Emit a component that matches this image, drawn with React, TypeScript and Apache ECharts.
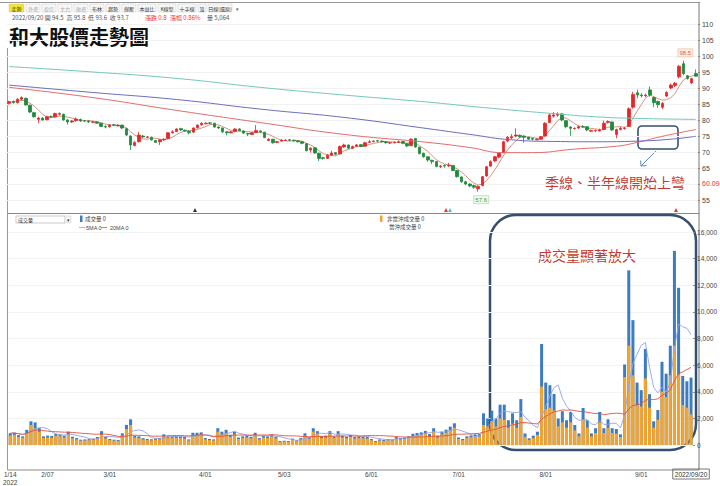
import React, { useEffect, useRef } from 'react';
import * as echarts from 'echarts';

// ---- trading days (2022) ----
const JAN = [14, 17, 18, 19, 20, 21, 24, 25, 26];
const FEB = [7, 8, 9, 10, 11, 14, 15, 16, 17, 18, 21, 22, 23, 24, 25];
const MAR = [1, 2, 3, 4, 7, 8, 9, 10, 11, 14, 15, 16, 17, 18, 21, 22, 23, 24, 25, 28, 29, 30, 31];
const APR = [1, 6, 7, 8, 11, 12, 13, 14, 15, 18, 19, 20, 21, 22, 25, 26, 27, 28, 29];
const MAY = [3, 4, 5, 6, 9, 10, 11, 12, 13, 16, 17, 18, 19, 20, 23, 24, 25, 26, 27, 30, 31];
const JUN = [1, 2, 6, 7, 8, 9, 10, 13, 14, 15, 16, 17, 20, 21, 22, 23, 24, 27, 28, 29, 30];
const JUL = [1, 4, 5, 6, 7, 8, 11, 12, 13, 14, 15, 18, 19, 20, 21, 22, 25, 26, 27, 28, 29];
const AUG = [1, 2, 3, 4, 5, 8, 9, 10, 11, 12, 15, 16, 17, 18, 19, 22, 23, 24, 25, 26, 29, 30, 31];
const SEP = [1, 2, 5, 6, 7, 8, 12, 13, 14, 15, 16, 19, 20];
const MONTHS: [number, number[]][] = [[1, JAN], [2, FEB], [3, MAR], [4, APR], [5, MAY], [6, JUN], [7, JUL], [8, AUG], [9, SEP]];
const dates = MONTHS.flatMap(([m, ds]) => ds.map((d) => `${m}/${String(d).padStart(2, '0')}`));
const tickDates = ['1/14', '2/07', '3/01', '4/01', '5/03', '6/01', '7/01', '8/01', '9/01', '9/20'];

// ---- prices ----
const openP = [
  85.2, 85.8, 85.4, 86.5, 86.8, 84.6, 82.3, 80.2, 80.6, 80.1,
  81.1, 81.0, 81.8, 81.8, 80.0, 79.4, 79.8, 80.2, 79.8, 79.7,
  79.3, 79.4, 79.0, 78.0, 77.9, 78.5, 78.2, 78.4, 77.3, 75.0,
  72.0, 73.2, 75.0, 74.6, 74.6, 73.6, 73.2, 73.8, 74.2, 76.0,
  76.4, 77.3, 76.8, 76.5, 76.2, 77.6, 78.5, 78.8, 79.1, 79.0,
  77.8, 77.5, 76.3, 76.0, 76.4, 77.2, 76.6, 75.8, 75.5, 76.1,
  76.6, 76.2, 73.6, 74.0, 73.0, 73.4, 73.6, 73.8, 73.7, 73.5,
  73.2, 72.6, 70.6, 71.3, 69.6, 68.2, 68.0, 69.0, 69.8, 69.4,
  71.6, 72.2, 71.2, 71.8, 72.3, 71.8, 73.0, 73.3, 73.5, 73.4,
  73.2, 72.8, 72.9, 73.0, 73.3, 72.6, 72.0, 74.2, 71.5, 69.6,
  68.5, 67.4, 67.0, 65.4, 65.8, 65.7, 65.8, 64.2, 62.2, 60.7,
  60.0, 59.5, 58.5, 59.5, 62.5, 65.6, 67.2, 68.4, 69.8, 73.4,
  74.4, 75.0, 75.2, 75.0, 74.6, 74.2, 73.8, 74.0, 75.0, 79.2,
  81.2, 81.5, 81.9, 79.8, 77.8, 77.3, 77.5, 78.0, 77.9, 76.5,
  76.6, 76.6, 77.0, 79.2, 79.4, 75.5, 77.0, 77.3, 78.0, 84.0,
  88.5, 87.8, 87.6, 89.4, 87.0, 85.8, 84.0, 87.5, 90.0, 90.8,
  93.5, 97.6, 93.8, 91.6, 94.5,
];
const closeP = [
  85.7, 85.5, 86.5, 87.0, 84.7, 82.5, 81.0, 80.6, 80.0, 81.0,
  81.0, 82.0, 82.0, 80.0, 79.4, 79.7, 80.3, 79.7, 79.7, 79.4,
  79.4, 79.0, 78.0, 77.8, 78.4, 78.4, 78.4, 77.5, 75.3, 72.2,
  73.0, 75.3, 74.7, 74.7, 73.8, 73.0, 73.8, 74.0, 76.0, 76.3,
  77.2, 76.9, 76.6, 76.0, 77.5, 78.4, 79.0, 79.0, 79.0, 77.8,
  77.5, 76.3, 76.0, 76.3, 77.2, 76.7, 75.9, 75.6, 76.0, 76.7,
  76.3, 74.5, 74.0, 72.9, 73.2, 73.7, 73.7, 73.7, 73.5, 73.2,
  72.7, 70.4, 71.2, 69.7, 68.0, 68.0, 69.0, 69.7, 69.3, 71.7,
  72.2, 71.2, 71.7, 72.2, 71.7, 72.9, 73.2, 73.4, 73.4, 73.2,
  72.9, 72.9, 73.0, 73.2, 72.7, 71.9, 74.0, 71.6, 69.5, 68.5,
  67.5, 67.0, 65.5, 65.6, 65.6, 65.9, 64.2, 62.3, 60.7, 60.0,
  59.4, 59.0, 59.2, 62.3, 65.4, 67.0, 68.5, 69.6, 73.2, 74.6,
  74.8, 75.3, 74.8, 74.6, 74.0, 74.0, 74.0, 74.8, 79.0, 81.6,
  81.6, 81.9, 80.0, 77.9, 77.4, 77.4, 77.9, 77.9, 76.9, 76.7,
  76.7, 76.9, 79.0, 79.5, 76.9, 77.0, 77.4, 77.4, 83.5, 88.0,
  87.8, 87.6, 87.8, 87.8, 85.4, 84.8, 85.2, 88.6, 90.9, 91.5,
  96.8, 94.5, 93.0, 92.9, 93.7,
];
const lowP = [
  84.8, 85.1, 85.2, 86.1, 84.5, 82.2, 80.7, 79.0, 79.8, 79.9,
  80.6, 80.8, 81.4, 79.8, 78.6, 79.1, 79.5, 79.4, 79.4, 79.1,
  79.0, 78.8, 77.8, 77.4, 77.6, 78.1, 78.0, 77.2, 75.0, 70.6,
  71.8, 73.0, 74.4, 74.3, 73.5, 72.8, 72.2, 73.5, 74.0, 75.8,
  76.2, 76.6, 76.3, 75.5, 76.0, 77.3, 78.2, 78.7, 78.7, 77.6,
  77.2, 75.9, 75.2, 75.8, 76.2, 76.5, 75.6, 75.0, 75.3, 75.9,
  76.0, 74.3, 73.4, 72.6, 72.8, 73.2, 73.4, 73.4, 73.2, 72.9,
  72.4, 70.2, 69.8, 69.4, 67.2, 67.6, 67.8, 68.8, 69.0, 69.3,
  71.3, 71.0, 71.0, 71.5, 71.5, 71.6, 72.8, 73.0, 73.1, 72.9,
  72.6, 72.5, 72.7, 72.9, 72.4, 71.5, 71.8, 71.3, 69.2, 68.2,
  67.0, 66.2, 65.2, 65.0, 65.1, 65.3, 64.0, 62.0, 60.4, 59.6,
  59.0, 58.5, 57.6, 59.3, 62.3, 65.3, 66.8, 68.0, 69.6, 73.0,
  74.0, 74.6, 74.4, 72.9, 73.8, 73.6, 73.6, 73.8, 74.8, 79.0,
  80.8, 81.0, 79.6, 77.4, 75.0, 77.0, 77.2, 77.6, 76.5, 76.4,
  76.3, 76.4, 76.8, 78.9, 76.6, 74.3, 76.8, 77.0, 77.8, 83.5,
  86.8, 87.0, 87.2, 87.3, 84.0, 83.8, 83.4, 87.2, 89.6, 90.3,
  93.0, 94.0, 92.6, 91.3, 93.6,
];
const highP = [
  86.0, 86.1, 86.8, 87.4, 87.0, 84.8, 82.6, 81.0, 80.9, 81.3,
  81.4, 82.3, 82.4, 82.0, 80.3, 80.0, 80.8, 80.4, 80.0, 79.9,
  79.7, 79.6, 79.1, 78.3, 78.6, 78.8, 78.7, 78.5, 77.4, 75.2,
  73.4, 76.3, 75.4, 75.0, 74.8, 73.8, 74.0, 74.3, 76.2, 76.8,
  77.4, 77.6, 77.0, 76.8, 77.7, 78.6, 79.3, 79.3, 79.4, 79.1,
  78.0, 77.6, 76.5, 76.6, 77.4, 77.4, 76.8, 76.0, 76.2, 78.4,
  76.8, 76.3, 74.3, 74.1, 73.5, 74.0, 74.0, 74.0, 73.8, 73.6,
  73.4, 72.7, 71.5, 71.4, 69.8, 68.5, 69.3, 70.4, 70.0, 72.0,
  72.6, 72.3, 72.0, 72.5, 72.5, 73.2, 73.8, 73.7, 73.8, 73.6,
  73.4, 73.2, 73.3, 73.6, 73.4, 72.8, 74.3, 74.4, 71.6, 69.8,
  68.7, 67.6, 67.1, 66.0, 66.1, 66.6, 65.9, 64.3, 62.4, 61.0,
  60.2, 59.8, 59.6, 62.5, 65.6, 67.4, 68.8, 70.0, 73.5, 75.0,
  75.6, 77.4, 75.5, 75.2, 74.8, 74.4, 74.3, 75.0, 79.3, 82.0,
  82.5, 82.4, 82.2, 80.0, 78.0, 77.7, 78.3, 78.4, 78.0, 77.0,
  77.0, 77.3, 79.8, 79.9, 79.5, 77.3, 77.8, 77.9, 84.0, 88.8,
  89.5, 88.4, 88.2, 90.5, 87.2, 86.0, 85.6, 89.0, 91.4, 91.9,
  97.2, 98.5, 94.1, 93.2, 95.8,
];

// long moving averages: [day index, value]
const ma60Pts = [[0, 90.2], [20, 87.0], [40, 83.0], [60, 79.2], [80, 75.5], [100, 73.0], [110, 71.4], [118, 69.8], [125, 69.8], [135, 70.9], [145, 71.8], [150, 73.0], [155, 74.6], [160, 76.0], [164, 77.0]];
const ma120Pts = [[0, 90.9], [20, 88.6], [40, 86.4], [60, 83.4], [80, 80.8], [100, 77.3], [110, 75.5], [120, 73.8], [130, 73.3], [140, 73.2], [150, 73.4], [158, 74.0], [164, 74.9]];
const ma240Pts = [[0, 96.7], [20, 95.0], [40, 93.0], [60, 90.2], [80, 87.8], [100, 85.6], [110, 84.3], [120, 83.1], [130, 82.0], [140, 81.0], [150, 80.5], [164, 80.2]];

// ---- volumes ----
const totalVol = [
  880, 920, 740, 650, 1140, 1780, 1700, 1260, 650, 700,
  680, 850, 800, 700, 1000, 620, 520, 400, 420, 440,
  460, 600, 1040, 620, 450, 400, 380, 880, 1510, 1930,
  700, 650, 520, 450, 430, 480, 520, 800, 650, 640,
  660, 640, 600, 420, 920, 920, 950, 520, 450, 420,
  1260, 1000, 1140, 770, 1000, 560, 650, 700, 620, 920,
  520, 700, 650, 800, 620, 300, 320, 300, 480, 350,
  520, 880, 600, 1260, 1040, 650, 700, 1040, 650, 1040,
  700, 620, 750, 600, 650, 620, 600, 450, 300, 420,
  380, 450, 420, 600, 520, 560, 650, 850, 900, 950,
  1060, 820, 1260, 700, 1000, 1150, 1380, 1630, 560, 450,
  650, 720, 800, 820, 2380, 1990, 2580, 1990, 3030, 3030,
  1860, 2380, 1860, 3450, 870, 500, 700, 1000, 7590, 4690,
  4490, 3830, 1990, 2540, 1860, 2480, 1500, 870, 2780, 1860,
  870, 1260, 2480, 1260, 1930, 1260, 1200, 800, 6050, 13120,
  9380, 4690, 4120, 7220, 3820, 1780, 2630, 6250, 5360, 7460,
  14580, 11810, 5190, 4790, 5064,
];
const nonDayVol = [
  700, 760, 600, 540, 900, 1500, 1260, 1000, 520, 560,
  540, 680, 650, 560, 800, 500, 420, 330, 340, 360,
  380, 480, 800, 500, 370, 330, 310, 700, 1200, 1500,
  560, 520, 420, 370, 350, 390, 420, 640, 520, 520,
  530, 520, 480, 340, 740, 740, 760, 420, 370, 340,
  1000, 800, 900, 620, 800, 450, 520, 560, 500, 740,
  420, 560, 520, 640, 500, 240, 260, 240, 390, 280,
  420, 700, 480, 1000, 830, 520, 560, 830, 520, 830,
  560, 500, 600, 480, 520, 500, 480, 360, 240, 340,
  300, 360, 340, 480, 420, 450, 520, 680, 720, 760,
  850, 650, 1000, 560, 800, 920, 1100, 1300, 450, 360,
  520, 580, 640, 650, 1500, 1400, 1800, 1400, 2000, 1900,
  1300, 1600, 1300, 2100, 600, 380, 520, 750, 4390, 2700,
  2800, 2600, 1400, 1700, 1300, 1700, 1100, 650, 1900, 1300,
  650, 900, 1700, 900, 1300, 900, 850, 600, 5100, 7460,
  5230, 3000, 2900, 5000, 2800, 1300, 1900, 4000, 3600, 5230,
  7460, 5300, 3000, 2800, 2300,
];

const toolbarBtns = ['走勢', '外資', '投信', '主力', '融資', '布林', '趨勢', '撐壓', '本益比', 'K線型', '十字線', '設', '日線(還原)'];

const maOf = (arr: number[], n: number) =>
  arr.map((_, i) => {
    const s = Math.max(0, i - n + 1);
    let sum = 0;
    for (let k = s; k <= i; k++) sum += arr[k];
    return +(sum / (i - s + 1)).toFixed(2);
  });

const CN = '"Noto Sans CJK TC", "Noto Sans", sans-serif';
const NUM = '"Liberation Sans", "DejaVu Sans", sans-serif';
const RED = '#e5262a';
const GREEN = '#1f8a3c';
const NAVY = '#34506e';

export default function App() {
  const ref = useRef<HTMLDivElement>(null);
  useEffect(() => {
    document.body.style.margin = '0';
    const chart = echarts.init(ref.current!, undefined, { renderer: 'svg' });

    const candle = dates.map((_, i) => [openP[i], closeP[i], lowP[i], highP[i]]);
    const ma5 = maOf(closeP, 5);
    const vma5 = maOf(totalVol, 5);
    const vma20 = maOf(totalVol, 20);

    // toolbar graphics
    const widths = [15, 14, 14, 14, 14, 14, 14, 14, 18, 18, 18, 8, 24];
    const tb: any[] = [];
    let bx = 9;
    toolbarBtns.forEach((t, k) => {
      const w = widths[k];
      tb.push({
        type: 'rect', shape: { x: bx, y: 4, width: w, height: 8 },
        style: { fill: k === 0 ? '#f2e22a' : '#f7f7f7', stroke: '#c8c8c8', lineWidth: 0.5 },
      });
      tb.push({
        type: 'text', x: bx + w / 2, y: 8,
        style: { text: t, font: `5px ${CN}`, fill: k >= 1 && k <= 4 ? '#aaa' : '#333', align: 'center', verticalAlign: 'middle' },
      });
      bx += w + 2;
    });
    tb.push({ type: 'text', x: bx + 2, y: 8, style: { text: '▾', font: `5px ${CN}`, fill: '#555', verticalAlign: 'middle' } });

    const tri = (x: number, c: string) => ({
      type: 'polygon', shape: { points: [[x - 2, 212], [x + 2, 212], [x, 208]] }, style: { fill: c },
    });

    chart.setOption({
      animation: false,
      backgroundColor: '#fff',
      grid: [
        { left: 7, right: 22, top: 24, height: 176 },
        { left: 7, right: 22, top: 232, height: 215 },
      ],
      xAxis: [
        {
          type: 'category', data: dates, gridIndex: 0,
          axisLine: { show: false }, axisTick: { show: false }, axisLabel: { show: false }, splitLine: { show: false },
        },
        {
          type: 'category', data: dates, gridIndex: 1,
          axisLine: { show: false }, axisTick: { show: false }, splitLine: { show: false },
          axisLabel: {
            margin: 25, fontSize: 6.5, color: '#444', fontFamily: NUM, lineHeight: 8,
            interval: (idx: number) => tickDates.includes(dates[idx]),
            formatter: (v: string) => (v === '1/14' ? '1/14\n2022' : v === '9/20' ? '{box|2022/09/20}' : v),
            rich: { box: { borderColor: '#555', borderWidth: 0.8, padding: [2, 2, 1, 2], fontSize: 6.5, color: '#333', fontFamily: NUM } },
          },
        },
      ],
      yAxis: [
        {
          type: 'value', gridIndex: 0, position: 'right', min: 55, max: 110, interval: 5,
          axisLine: { show: false },
          axisTick: { show: true, length: 2, lineStyle: { color: '#888' } },
          axisLabel: { fontSize: 7, color: '#444', margin: 4, fontFamily: NUM, formatter: (v: number) => (v === 60 ? '' : String(v)) },
          splitLine: { lineStyle: { color: '#f1f1f1' } },
        },
        {
          type: 'value', gridIndex: 1, position: 'right', min: 0, max: 16000, interval: 2000,
          axisLine: { show: false },
          axisTick: { show: true, length: 2, lineStyle: { color: '#888' } },
          axisLabel: { fontSize: 6.5, color: '#444', margin: 4, fontFamily: NUM },
          splitLine: { lineStyle: { color: '#f3f3f3' } },
        },
      ],
      series: [
        {
          type: 'candlestick', xAxisIndex: 0, yAxisIndex: 0, data: candle, barWidth: 3,
          itemStyle: { color: RED, color0: GREEN, borderColor: RED, borderColor0: GREEN, borderWidth: 0.8 },
          markPoint: {
            silent: true,
            data: [
              {
                coord: [161, 98.5], symbol: 'rect', symbolSize: [15, 8], symbolOffset: [2, -8],
                itemStyle: { color: '#fdeee4', borderColor: '#f2b896', borderWidth: 0.6 },
                label: { show: true, formatter: '98.5', color: '#e0683a', fontSize: 6, fontFamily: NUM },
              },
              {
                coord: [112, 57.6], symbol: 'rect', symbolSize: [15, 8], symbolOffset: [3, 8],
                itemStyle: { color: '#f1fbef', borderColor: '#a6d49a', borderWidth: 0.6 },
                label: { show: true, formatter: '57.6', color: '#3d9a3d', fontSize: 6, fontFamily: NUM },
              },
            ],
          },
          markLine: {
            silent: true, symbol: 'none',
            lineStyle: { color: 'rgba(0,0,0,0)', width: 0.1 },
            data: [{ yAxis: 60.09 }],
            label: { show: true, position: 'end', formatter: '60.09', color: '#e03030', fontSize: 7, distance: 4, fontFamily: NUM },
          },
        },
        { type: 'line', xAxisIndex: 0, yAxisIndex: 0, data: ma5, symbol: 'none', lineStyle: { width: 0.9, color: '#c98872' }, z: 1 },
        { type: 'line', xAxisIndex: 0, yAxisIndex: 0, data: ma60Pts, smooth: true, symbol: 'none', lineStyle: { width: 1, color: '#e36b6b' } },
        { type: 'line', xAxisIndex: 0, yAxisIndex: 0, data: ma120Pts, smooth: true, symbol: 'none', lineStyle: { width: 1, color: '#6a6cc0' } },
        { type: 'line', xAxisIndex: 0, yAxisIndex: 0, data: ma240Pts, smooth: true, symbol: 'none', lineStyle: { width: 1, color: '#72c7ba' } },
        { type: 'bar', xAxisIndex: 1, yAxisIndex: 1, data: totalVol, barWidth: 3, barGap: '-100%', itemStyle: { color: '#3d7dbf' } },
        { type: 'bar', xAxisIndex: 1, yAxisIndex: 1, data: nonDayVol, barWidth: 3, barGap: '-100%', itemStyle: { color: '#f5a32a' } },
        { type: 'line', xAxisIndex: 1, yAxisIndex: 1, data: vma5, symbol: 'none', lineStyle: { width: 0.9, color: '#8fa2ee' }, z: 3 },
        { type: 'line', xAxisIndex: 1, yAxisIndex: 1, data: vma20, symbol: 'none', lineStyle: { width: 0.9, color: '#e8503a' }, z: 3 },
      ],
      graphic: [
        ...tb,
        { type: 'line', shape: { x1: 0, y1: 2.5, x2: 700, y2: 2.5 }, style: { stroke: '#999', lineWidth: 1 } },
        { type: 'line', shape: { x1: 7.5, y1: 48, x2: 7.5, y2: 470 }, style: { stroke: '#999', lineWidth: 1 } },
        { type: 'line', shape: { x1: 699, y1: 2.5, x2: 699, y2: 470 }, style: { stroke: '#777', lineWidth: 1 } },
        { type: 'line', shape: { x1: 7.5, y1: 213.5, x2: 699, y2: 213.5 }, style: { stroke: '#888', lineWidth: 1 } },
        { type: 'line', shape: { x1: 7.5, y1: 470, x2: 699, y2: 470 }, style: { stroke: '#888', lineWidth: 1 } },
        {
          type: 'text', x: 12, y: 14,
          style: { text: '2022/09/20 開 94.5  高 95.8  低 93.6  收 93.7', font: `6px ${CN}`, fill: '#555' },
        },
        { type: 'text', x: 145, y: 14, style: { text: '漲跌 0.8', font: `6px ${CN}`, fill: '#e33' } },
        { type: 'text', x: 170, y: 14, style: { text: '漲幅 0.86%', font: `6px ${CN}`, fill: '#e33' } },
        { type: 'text', x: 207, y: 14, style: { text: '量 5,064', font: `6px ${CN}`, fill: '#555' } },
        { type: 'text', x: 9, y: 26, style: { text: '和大股價走勢圖', font: `bold 20px ${CN}`, fill: '#111' } },
        // volume legend
        { type: 'rect', shape: { x: 16, y: 216, width: 49, height: 7 }, style: { fill: '#fff', stroke: '#aaa', lineWidth: 0.6 } },
        { type: 'text', x: 18, y: 219.5, style: { text: '成交量', font: `5px ${CN}`, fill: '#333', verticalAlign: 'middle' } },
        { type: 'rect', shape: { x: 65, y: 216, width: 6, height: 7 }, style: { fill: '#f3f3f3', stroke: '#ccc', lineWidth: 0.5 } },
        { type: 'text', x: 68, y: 219.5, style: { text: '▾', font: `5px ${CN}`, fill: '#444', align: 'center', verticalAlign: 'middle' } },
        { type: 'rect', shape: { x: 80, y: 215.5, width: 2.5, height: 6.5 }, style: { fill: '#3d7dbf' } },
        { type: 'text', x: 85, y: 219, style: { text: '成交量 0', font: `5.5px ${CN}`, fill: '#444', verticalAlign: 'middle' } },
        { type: 'line', shape: { x1: 79, y1: 227.5, x2: 85, y2: 227.5 }, style: { stroke: '#8fa2ee', lineWidth: 0.8 } },
        { type: 'text', x: 86, y: 227.5, style: { text: '5MA 0', font: `5.5px ${NUM}`, fill: '#444', verticalAlign: 'middle' } },
        { type: 'line', shape: { x1: 101, y1: 227.5, x2: 107, y2: 227.5 }, style: { stroke: '#e8503a', lineWidth: 0.8 } },
        { type: 'text', x: 110, y: 227.5, style: { text: '20MA 0', font: `5.5px ${NUM}`, fill: '#444', verticalAlign: 'middle' } },
        { type: 'rect', shape: { x: 380, y: 215.5, width: 2.5, height: 6.5 }, style: { fill: '#f5a32a' } },
        { type: 'text', x: 387, y: 219, style: { text: '非當沖成交量 0', font: `5.5px ${CN}`, fill: '#444', verticalAlign: 'middle' } },
        { type: 'text', x: 389, y: 227, style: { text: '當沖成交量 0', font: `5.5px ${CN}`, fill: '#444', verticalAlign: 'middle' } },
        // event markers
        tri(195, '#333'), tri(446, '#e33'), tri(450, '#3cc'), tri(676, '#e33'),
        // annotations
        { type: 'rect', shape: { x: 638, y: 126, width: 40, height: 23, r: 4 }, style: { fill: 'none', stroke: NAVY, lineWidth: 1.6 } },
        { type: 'line', shape: { x1: 656, y1: 151, x2: 641, y2: 166 }, style: { stroke: '#5b8cc0', lineWidth: 1 } },
        { type: 'polyline', shape: { points: [[640.6, 160.5], [641, 166], [646.5, 165.6]] }, style: { stroke: '#5b8cc0', lineWidth: 1, fill: 'none' } },
        { type: 'text', x: 545, y: 175, style: { text: '季線、半年線開始上彎', font: `14px ${CN}`, fill: '#c23b30' } },
        { type: 'rect', shape: { x: 490, y: 215, width: 206, height: 235, r: 26 }, style: { fill: 'none', stroke: NAVY, lineWidth: 2.5 } },
        { type: 'text', x: 538, y: 248, style: { text: '成交量顯著放大', font: `14px ${CN}`, fill: '#c23b30' } },
      ],
    });
    return () => chart.dispose();
  }, []);
  return <div ref={ref} style={{ width: 720, height: 486 }} />;
}
